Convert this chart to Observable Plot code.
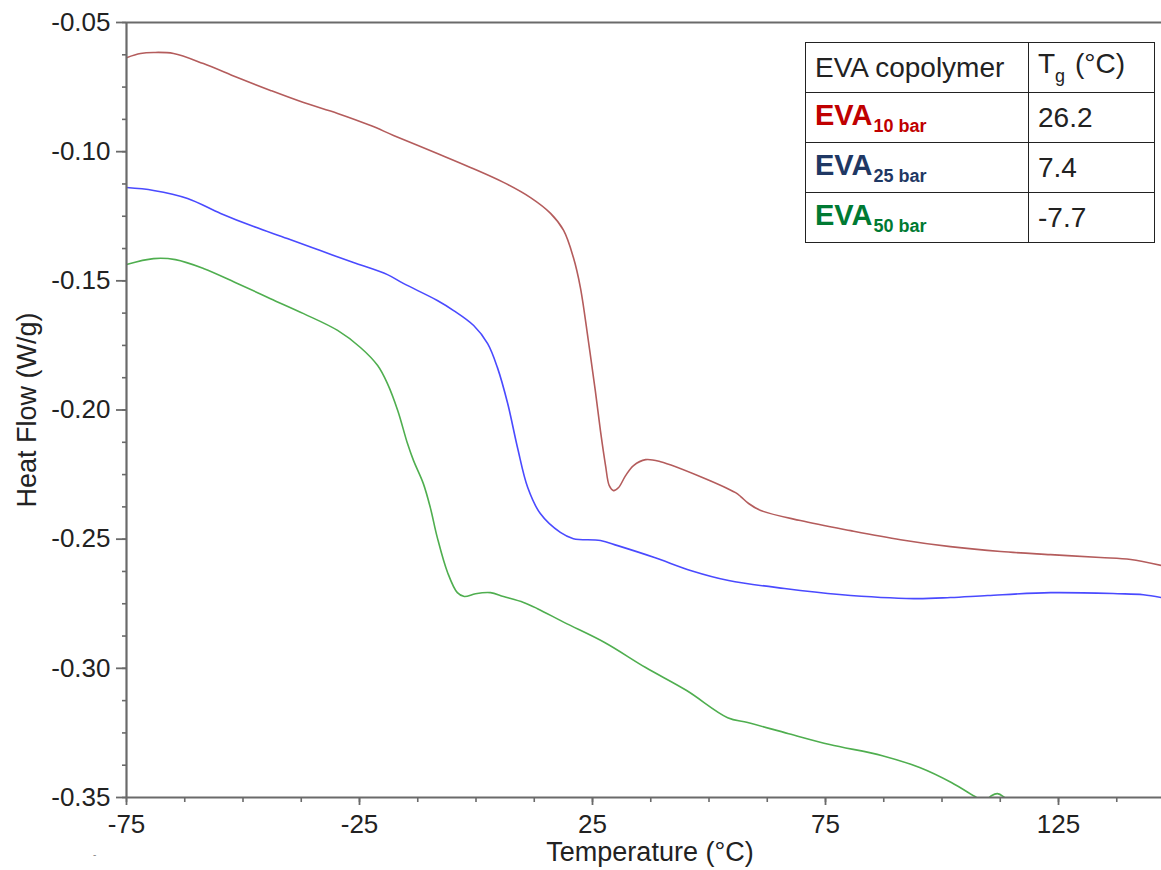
<!DOCTYPE html>
<html>
<head>
<meta charset="utf-8">
<script src="https://cdn.jsdelivr.net/npm/d3@7"></script>
<script src="https://cdn.jsdelivr.net/npm/@observablehq/plot@0.6"></script>
<style>
  html, body { margin: 0; padding: 0; background: #fff; }
  #wrap { position: relative; width: 1161px; height: 870px; overflow: hidden; font-family: "Liberation Sans", Arial, sans-serif; }
  #legend { position: absolute; left: 805px; top: 42px; border-collapse: collapse; }
  #legend td { border: 1.6px solid #222; padding: 0 0 0 9px; height: 49px; vertical-align: middle; color: #222; font-size: 28px; }
  #legend td.c1 { width: 213px; }
  #legend td.c2 { width: 116px; }
  #legend .name { font-weight: bold; font-size: 29px; }
  #legend .name sub { font-size: 18px; vertical-align: -7px; margin-left: 1px; }
  #legend .tg sub { font-size: 18px; vertical-align: -9px; margin-right: 2px; }
  #stray { position: absolute; left: 93px; top: 849px; font-size: 10px; color: #888; }
</style>
</head>
<body>
<div id="wrap">
  <div id="chart"></div>
  <table id="legend"></table>
  <div id="stray">-</div>
</div>
<script>
// ---- data ----
const seriesNames = ["EVA10 bar", "EVA25 bar", "EVA50 bar"];
const legendLabels = ["10 bar", "25 bar", "50 bar"];
const tgValues = ["26.2", "7.4", "-7.7"];

const temp10 = [-75, -72.0, -69.2, -64.9, -58.5, -51.2, -44.1, -37.0, -29.7, -22.6, -17.7, -8.3, -1.2, 5.9, 11.7, 16.0, 18.8, 20.9, 22.4, 24.1, 25.6, 26.7, 27.8, 28.6, 29.5, 30.6, 32.1, 33.8, 36.4, 39.6, 48.2, 55.7, 56.8, 58.5, 61.1, 69.6, 80.4, 91.1, 101.8, 112.6, 123.3, 134.0, 140.5, 147.1];
const heat10 = [-0.0636, -0.0620, -0.0616, -0.0620, -0.0659, -0.0713, -0.0763, -0.0810, -0.0852, -0.0899, -0.0937, -0.1007, -0.1061, -0.1119, -0.1178, -0.1239, -0.1305, -0.1410, -0.1526, -0.1731, -0.1925, -0.2080, -0.2215, -0.2293, -0.2312, -0.2300, -0.2254, -0.2215, -0.2192, -0.2200, -0.2258, -0.2320, -0.2335, -0.2362, -0.2389, -0.2428, -0.2467, -0.2502, -0.2529, -0.2548, -0.2560, -0.2571, -0.2579, -0.2602];

const temp25 = [-75, -69.2, -61.9, -54.8, -47.7, -40.5, -33.4, -26.3, -19.0, -15.6, -8.3, -4.8, -0.5, 2.5, 4.6, 6.8, 8.9, 11.1, 13.8, 18.1, 20.9, 26.7, 30.4, 38.3, 46.2, 54.2, 66.2, 78.0, 93.9, 101.8, 109.8, 123.3, 137.7, 143.2, 147.1];
const heat25 = [-0.1139, -0.1150, -0.1181, -0.1239, -0.1290, -0.1336, -0.1383, -0.1429, -0.1476, -0.1510, -0.1576, -0.1615, -0.1673, -0.1743, -0.1836, -0.1975, -0.2145, -0.2300, -0.2401, -0.2474, -0.2498, -0.2505, -0.2525, -0.2571, -0.2622, -0.2660, -0.2691, -0.2714, -0.2730, -0.2726, -0.2718, -0.2707, -0.2711, -0.2715, -0.2726];

const temp50 = [-75, -69.2, -64.5, -58.5, -51.2, -44.1, -37.0, -29.7, -24.8, -21.1, -19.0, -16.8, -14.7, -13.4, -11.3, -9.8, -8.3, -6.1, -4.0, -2.5, -0.1, 3.1, 5.9, 10.2, 13.2, 19.0, 27.6, 36.4, 45.2, 54.0, 58.3, 67.1, 75.9, 87.2, 95.2, 102.0, 107.4, 109.1, 110.6, 111.9, 113.2, 114.7, 121.1, 129.7, 147.1];
const heat50 = [-0.1437, -0.1414, -0.1418, -0.1452, -0.1510, -0.1569, -0.1627, -0.1692, -0.1758, -0.1828, -0.1898, -0.2002, -0.2130, -0.2196, -0.2285, -0.2378, -0.2494, -0.2629, -0.2707, -0.2722, -0.2711, -0.2707, -0.2722, -0.2745, -0.2769, -0.2823, -0.2900, -0.2997, -0.3086, -0.3191, -0.3210, -0.3253, -0.3295, -0.3338, -0.3384, -0.3442, -0.3500, -0.3516, -0.3493, -0.3485, -0.3497, -0.3524, -0.3570, -0.3628, -0.3744];

const xMajorTicks = [-75, -25, 25, 75, 125];
const yMajorTicks = [-0.35, -0.30, -0.25, -0.20, -0.15, -0.10, -0.05];
const xLabel = "Temperature (°C)";
const yLabel = "Heat Flow (W/g)";
const lineColors = ["#b45c5c", "#4a4aff", "#4fae4f"];
const legendColors = ["#c00000", "#1f3864", "#007a33"];

// ---- build ----
const toRows = (t, h, s) => t.map((x, i) => ({x, y: h[i], s}));
const rows = [
  ...toRows(temp10, heat10, seriesNames[0]),
  ...toRows(temp25, heat25, seriesNames[1]),
  ...toRows(temp50, heat50, seriesNames[2])
];

const xMinor = d3.range(-75, 147.2, 12.5);
const yMinor = d3.range(-0.35, -0.0499, 0.0125).map(v => +v.toFixed(4));
const axisColor = "#6a6a6a";
const tickFont = 26;
const labelFont = 27;

const chart = Plot.plot({
  width: 1161,
  height: 870,
  marginLeft: 126,
  marginRight: 0,
  marginTop: 22,
  marginBottom: 73,
  style: {fontFamily: "'Liberation Sans', Arial, sans-serif", fontSize: tickFont + "px", color: "#222", background: "#fff"},
  x: {domain: [-75, 147.1], label: null},
  y: {domain: [-0.35, -0.05], label: null},
  color: {domain: seriesNames, range: lineColors},
  marks: [
    Plot.axisX({ticks: xMinor, tickSize: 5, text: null, stroke: axisColor, strokeWidth: 1.6}),
    Plot.axisX({ticks: xMajorTicks, tickSize: 8, tickPadding: 9, tickFormat: d => String(d), stroke: axisColor, strokeWidth: 1.8, fontSize: tickFont, fill: "#222", label: null}),
    Plot.axisY({ticks: yMinor, tickSize: 4, text: null, stroke: axisColor, strokeWidth: 1.6}),
    Plot.axisY({ticks: yMajorTicks, tickSize: 10, tickPadding: 6, tickFormat: d => d.toFixed(2), stroke: axisColor, strokeWidth: 1.8, fontSize: tickFont, fill: "#222", label: null}),
    Plot.line(rows, {x: "x", y: "y", z: "s", stroke: "s", strokeWidth: 1.6, curve: "catmull-rom", clip: true}),
    Plot.ruleY([-0.35], {stroke: axisColor, strokeWidth: 2.2}),
    Plot.ruleY([-0.05], {stroke: axisColor, strokeWidth: 2.2}),
    Plot.ruleX([-75], {stroke: axisColor, strokeWidth: 2.2}),
    Plot.text([yLabel], {frameAnchor: "left", text: d => d, rotate: -90, dx: -99, fontSize: labelFont, fill: "#222", textAnchor: "middle", lineAnchor: "middle"}),
    Plot.text([xLabel], {frameAnchor: "bottom", text: d => d, dx: 6, dy: 55, fontSize: labelFont, fill: "#222", textAnchor: "middle", lineAnchor: "middle"})
  ]
});
document.getElementById("chart").appendChild(chart);

// legend table
const table = document.getElementById("legend");
const head = document.createElement("tr");
head.innerHTML = `<td class="c1">EVA copolymer</td><td class="c2 tg">T<sub>g</sub> (°C)</td>`;
table.appendChild(head);
legendLabels.forEach((lab, i) => {
  const tr = document.createElement("tr");
  tr.innerHTML = `<td class="c1"><span class="name" style="color:${legendColors[i]}">EVA<sub>${lab}</sub></span></td><td class="c2">${tgValues[i]}</td>`;
  table.appendChild(tr);
});
</script>
</body>
</html>
